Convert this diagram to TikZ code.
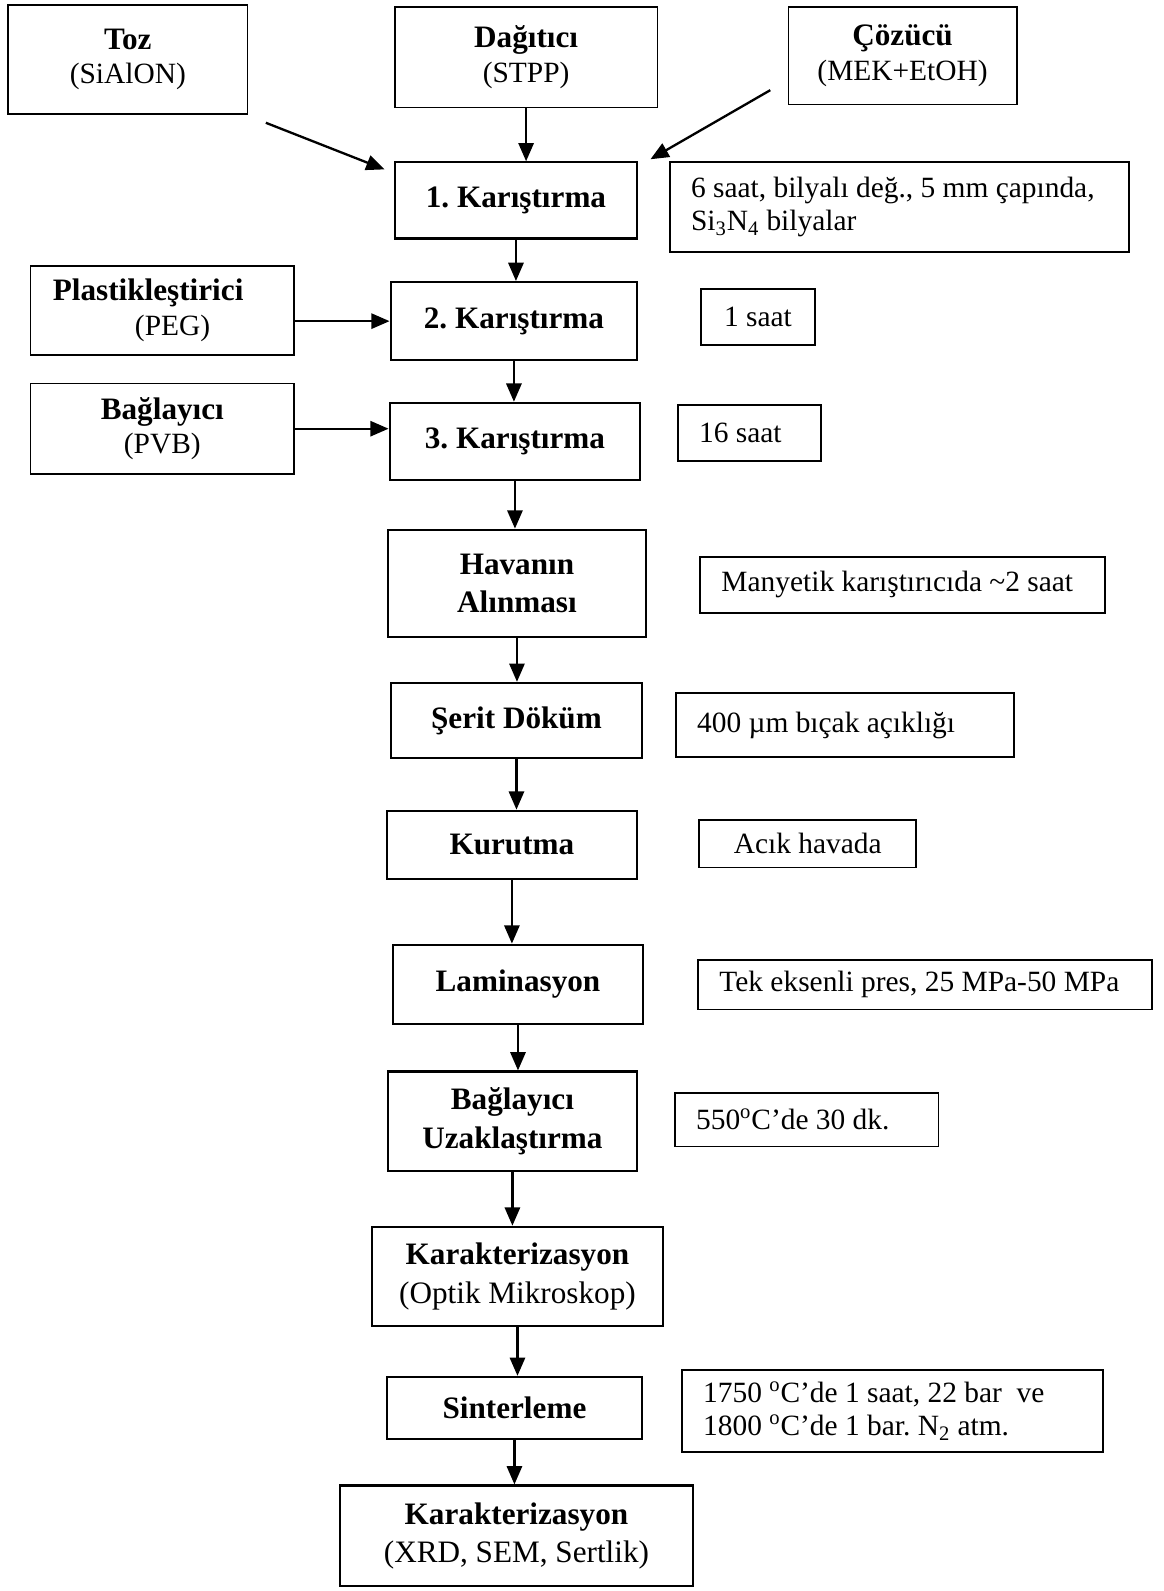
\documentclass[tikz,border=0pt]{standalone}
\usepackage{fontspec}
\setmainfont{Liberation Serif}
\usetikzlibrary{arrows.meta,calc}
\frenchspacing

\newcommand{\boxhead}[1]{{\fontsize{17.5}{19.5}\selectfont\bfseries #1}}

\begin{document}
\begin{tikzpicture}
[x=0.02cm,y=-0.02cm,
  stepBox/.style={draw,line width=1.2pt,align=center,inner sep=2pt,
    font=\fontsize{17.5}{21.5}\selectfont\bfseries},
  srcBox/.style={draw,line width=1pt,align=center,inner sep=2pt,
    font=\fontsize{16.5}{19.5}\selectfont},
  noteBox/.style={draw,line width=1pt,align=flush left,inner xsep=0.42cm,
    font=\fontsize{16.5}{18.5}\selectfont},
  flowArrow/.style={-{Triangle[length=0.36cm,width=0.3cm]},line width=1.3pt}]
\useasboundingbox (0,0) rectangle (1147,1568);

%% input materials
\node (toz) at (126,58.5) [srcBox,minimum width=4.72cm,minimum height=2.14cm]
  {\boxhead{Toz}\\(SiAlON)};
\node (dagitici) at (518.5,56.5) [srcBox,minimum width=5.18cm,minimum height=1.98cm]
  {\boxhead{Dağıtıcı}\\(STPP)};
\node (cozucu) at (889.5,55) [srcBox,minimum width=4.5cm,minimum height=1.92cm]
  {\boxhead{Çözücü}\\(MEK+EtOH)};
\node (plastik) at (160,306) [srcBox,align=flush left,inner xsep=0.44cm,text width=4.32cm,minimum height=1.76cm]
  {\boxhead{Plastikleştirici}\\\hspace*{1.62cm}(PEG)};
\node (baglayici) at (160,422.5) [srcBox,minimum width=5.2cm,minimum height=1.78cm]
  {\boxhead{Bağlayıcı}\\(PVB)};

%% process steps
\foreach \nodename/\x/\y/\w/\h/\txt in {
  karis1/508.5/197.5/239/75/{1. Karıştırma},
  karis2/506.5/316.5/243/77/{2. Karıştırma},
  karis3/507.5/435/247/76/{3. Karıştırma},
  havanin/509.5/575/255/106/{Havanın\\Alınması},
  serit/509/710/248/74/{Şerit Döküm},
  kurutma/504.5/832.5/247/67/{Kurutma},
  laminasyon/510.5/970/247/78/{Laminasyon},
  baguz/505/1105/246/98/{Bağlayıcı\\Uzaklaştırma},
  karakopt/510/1258/286/98/{Karakterizasyon\\\mdseries(Optik Mikroskop)},
  sinter/507/1387.5/252/61/{Sinterleme},
  karakxrd/509/1513.5/348/99/{Karakterizasyon\\\mdseries(XRD, SEM, Sertlik)}}
{
  \node (\nodename) at (\x,\y) [stepBox,minimum width=\w*0.02cm,minimum height=\h*0.02cm] {\txt};
}

%% conditions
\node (note1) at (886.5,204) [noteBox,text width=8.22cm,minimum height=1.76cm]
  {6 saat, bilyalı değ., 5 mm çapında,\\Si\textsubscript{3}N\textsubscript{4} bilyalar};
\node (note2) at (747,312.5) [noteBox,align=center,inner xsep=0pt,minimum width=2.24cm,minimum height=1.1cm]
  {1 saat};
\node (note3) at (738.5,426.5) [noteBox,text width=1.98cm,minimum height=1.1cm]
  {16 saat};
\node (note4) at (889.5,576.5) [noteBox,text width=7.14cm,minimum height=1.1cm]
  {Manyetik karıştırıcıda \textasciitilde2 saat};
\node (note5) at (832.5,714.5) [noteBox,text width=5.82cm,minimum height=1.26cm]
  {400 µm bıçak açıklığı};
\node (note6) at (796,831.5) [noteBox,align=center,inner xsep=0pt,minimum width=4.28cm,minimum height=0.94cm]
  {Acık havada};
\node (note7) at (911.5,970.5) [noteBox,text width=8.1cm,minimum height=0.98cm]
  {Tek eksenli pres, 25 MPa-50 MPa};
\node (note8) at (795,1103.5) [noteBox,text width=4.36cm,minimum height=1.06cm]
  {550\textsuperscript{o}C’de 30 dk.};
\node (note9) at (879.5,1390.5) [noteBox,text width=7.46cm,minimum height=1.62cm]
  {1750 \textsuperscript{o}C’de 1 saat, 22 bar\ \ ve\\1800 \textsuperscript{o}C’de 1 bar. N\textsubscript{2} atm.};

%% arrows
\coordinate (tozOut) at (262,121);
\coordinate (cozucuOut) at ($(cozucu.south west)+(-17,-15)$);
\draw[flowArrow] (tozOut) -- ($(karis1.north west)+(-9,8)$);
\draw[flowArrow] (cozucuOut) -- ($(karis1.north east)+(12,-2)$);
\draw[flowArrow] (dagitici.south) -- (dagitici.south |- karis1.north);
\draw[flowArrow] (plastik.east |- karis2.west) -- (karis2.west);
\draw[flowArrow] (baglayici.east) -- (baglayici.east -| karis3.west);
\foreach \startnode/\endnode in {
  karis1/karis2, karis2/karis3, karis3/havanin, havanin/serit,
  serit/kurutma, kurutma/laminasyon, laminasyon/baguz,
  baguz/karakopt, karakopt/sinter, sinter/karakxrd}
{
  \draw[flowArrow] (\startnode.south) -- (\startnode.south |- \endnode.north);
}
\end{tikzpicture}
\end{document}
